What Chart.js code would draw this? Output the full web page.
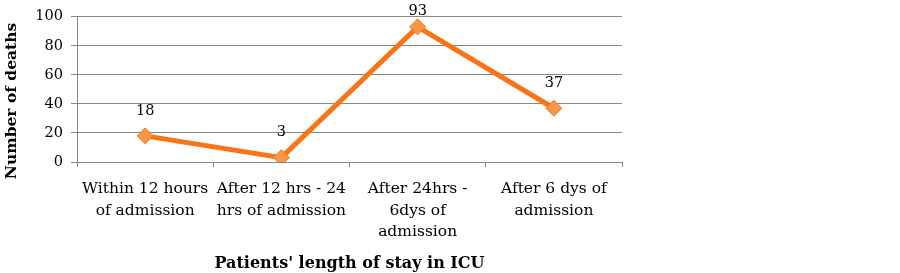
<!DOCTYPE html>
<html>
<head>
<meta charset="utf-8">
<script src="https://cdn.jsdelivr.net/npm/chart.js@4"></script>
<style>
  html, body { margin: 0; padding: 0; background: #fff; }
  #wrap { width: 900px; height: 273px; }
</style>
</head>
<body>
<div id="wrap"><canvas id="chart" width="900" height="273"></canvas></div>
<script>
const categories = [
  ['Within 12 hours', 'of admission'],
  ['After 12 hrs - 24', 'hrs of admission'],
  ['After 24hrs -', '6dys of', 'admission'],
  ['After 6 dys of', 'admission']
];
const deaths = [18, 3, 93, 37];
const yTicks = [0, 20, 40, 60, 80, 100];

const serif = '"DejaVu Serif", "Liberation Serif", serif';
const gridColor = '#868686';

// value labels above points, plus the y title drawn by hand so it sits where the original has it
const extraText = {
  id: 'extraText',
  afterDatasetsDraw(chart) {
    const ctx = chart.ctx;
    const meta = chart.getDatasetMeta(0);
    ctx.save();
    ctx.font = '14.5px ' + serif;
    ctx.fillStyle = '#000';
    ctx.textAlign = 'center';
    ctx.textBaseline = 'middle';
    meta.data.forEach((pt, i) => {
      const y = Math.max(pt.y - 25, 11);
      ctx.fillText(String(deaths[i]), pt.x, y);
    });

    ctx.font = 'bold 15.5px ' + serif;
    ctx.translate(12, 101);
    ctx.rotate(-Math.PI / 2);
    ctx.fillText('Number of deaths', 0, 0);
    ctx.restore();
  }
};

new Chart(document.getElementById('chart'), {
  type: 'line',
  data: {
    labels: categories,
    datasets: [{
      data: deaths,
      borderColor: '#f97415',
      borderWidth: 5,
      backgroundColor: '#f79646',
      pointBackgroundColor: '#f79646',
      pointBorderColor: '#f27a20',
      pointBorderWidth: 1,
      pointStyle: 'rectRot',
      pointRadius: 8,
      tension: 0
    }]
  },
  options: {
    responsive: false,
    animation: false,
    layout: { padding: { left: 0, right: 278, top: 15, bottom: 0 } },
    plugins: {
      legend: { display: false },
      tooltip: { enabled: false }
    },
    scales: {
      x: {
        offset: true,
        grid: {
          display: true,
          offset: true,
          drawOnChartArea: false,
          color: gridColor,
          tickLength: 5
        },
        border: { color: gridColor, width: 1 },
        ticks: {
          color: '#000',
          font: { family: serif, size: 15.5, lineHeight: 1.4 },
          padding: 11,
          maxRotation: 0,
          autoSkip: false
        },
        title: {
          display: true,
          text: "Patients' length of stay in ICU",
          color: '#000',
          font: { family: serif, size: 16, weight: 'bold' },
          padding: { top: 10, bottom: 0 }
        },
        afterFit(scale) { scale.height = 111; }
      },
      y: {
        min: 0,
        max: 100,
        afterBuildTicks(scale) { scale.ticks = yTicks.map(v => ({ value: v })); },
        grid: { color: gridColor, tickLength: 6 },
        border: { color: gridColor, width: 1 },
        ticks: {
          color: '#000',
          font: { family: serif, size: 14.5 },
          padding: 8
        },
        afterFit(scale) { scale.width = 77; }
      }
    }
  },
  plugins: [extraText]
});
</script>
</body>
</html>
